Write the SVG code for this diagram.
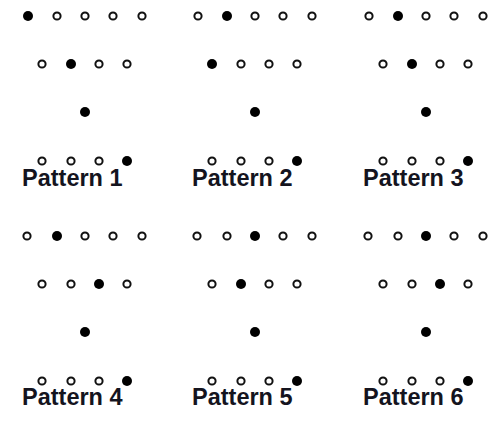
<svg xmlns="http://www.w3.org/2000/svg" xmlns:xlink="http://www.w3.org/1999/xlink" width="495" height="425" viewBox="0 0 495 425">
<style>
.o{fill:#fff;stroke:#111;stroke-width:2}
.f{fill:#000}
.lbl{font-family:"Liberation Sans",Arial,sans-serif;font-weight:bold;font-size:23.5px;fill:#14141e}
</style>
<defs>
<circle id="o" class="o" r="3.6"/>
<circle id="f" class="f" r="5"/>
<g id="r4">
<use href="#o" x="42"/><use href="#o" x="71"/><use href="#o" x="99"/><use href="#f" x="127"/>
</g>
</defs>
<rect width="495" height="425" fill="#fff"/>
<g id="pattern1">
<g transform="translate(0,16)"><use href="#f" x="28"/><use href="#o" x="57"/><use href="#o" x="85"/><use href="#o" x="113"/><use href="#o" x="142"/></g>
<g transform="translate(0,64)"><use href="#o" x="42"/><use href="#f" x="71"/><use href="#o" x="99"/><use href="#o" x="127"/></g>
<use href="#f" x="85" y="112"/>
<use href="#r4" y="161"/>
<text class="lbl" x="22" y="186">Pattern 1</text>
</g>
<g id="pattern2" transform="translate(170,0)">
<g transform="translate(0,16)"><use href="#o" x="28"/><use href="#f" x="57"/><use href="#o" x="85"/><use href="#o" x="113"/><use href="#o" x="142"/></g>
<g transform="translate(0,64)"><use href="#f" x="42"/><use href="#o" x="71"/><use href="#o" x="99"/><use href="#o" x="127"/></g>
<use href="#f" x="85" y="112"/>
<use href="#r4" y="161"/>
<text class="lbl" x="22" y="186">Pattern 2</text>
</g>
<g id="pattern3" transform="translate(341,0)">
<g transform="translate(0,16)"><use href="#o" x="28"/><use href="#f" x="57"/><use href="#o" x="85"/><use href="#o" x="113"/><use href="#o" x="142"/></g>
<g transform="translate(0,64)"><use href="#o" x="42"/><use href="#f" x="71"/><use href="#o" x="99"/><use href="#o" x="127"/></g>
<use href="#f" x="85" y="112"/>
<use href="#r4" y="161"/>
<text class="lbl" x="22" y="186">Pattern 3</text>
</g>
<g id="pattern4" transform="translate(0,0)">
<g transform="translate(0,236)"><use href="#o" x="27"/><use href="#f" x="57"/><use href="#o" x="85"/><use href="#o" x="113"/><use href="#o" x="142"/></g>
<g transform="translate(0,284)"><use href="#o" x="42"/><use href="#o" x="71"/><use href="#f" x="99"/><use href="#o" x="127"/></g>
<use href="#f" x="85" y="332"/>
<use href="#r4" y="381"/>
<text class="lbl" x="22" y="405">Pattern 4</text>
</g>
<g id="pattern5" transform="translate(170,0)">
<g transform="translate(0,236)"><use href="#o" x="27"/><use href="#o" x="57"/><use href="#f" x="85"/><use href="#o" x="113"/><use href="#o" x="142"/></g>
<g transform="translate(0,284)"><use href="#o" x="42"/><use href="#f" x="71"/><use href="#o" x="99"/><use href="#o" x="127"/></g>
<use href="#f" x="85" y="332"/>
<use href="#r4" y="381"/>
<text class="lbl" x="22" y="405">Pattern 5</text>
</g>
<g id="pattern6" transform="translate(341,0)">
<g transform="translate(0,236)"><use href="#o" x="27"/><use href="#o" x="57"/><use href="#f" x="85"/><use href="#o" x="113"/><use href="#o" x="142"/></g>
<g transform="translate(0,284)"><use href="#o" x="42"/><use href="#o" x="71"/><use href="#f" x="99"/><use href="#o" x="127"/></g>
<use href="#f" x="85" y="332"/>
<use href="#r4" y="381"/>
<text class="lbl" x="22" y="405">Pattern 6</text>
</g>
<g id="connectors"/>
</svg>
